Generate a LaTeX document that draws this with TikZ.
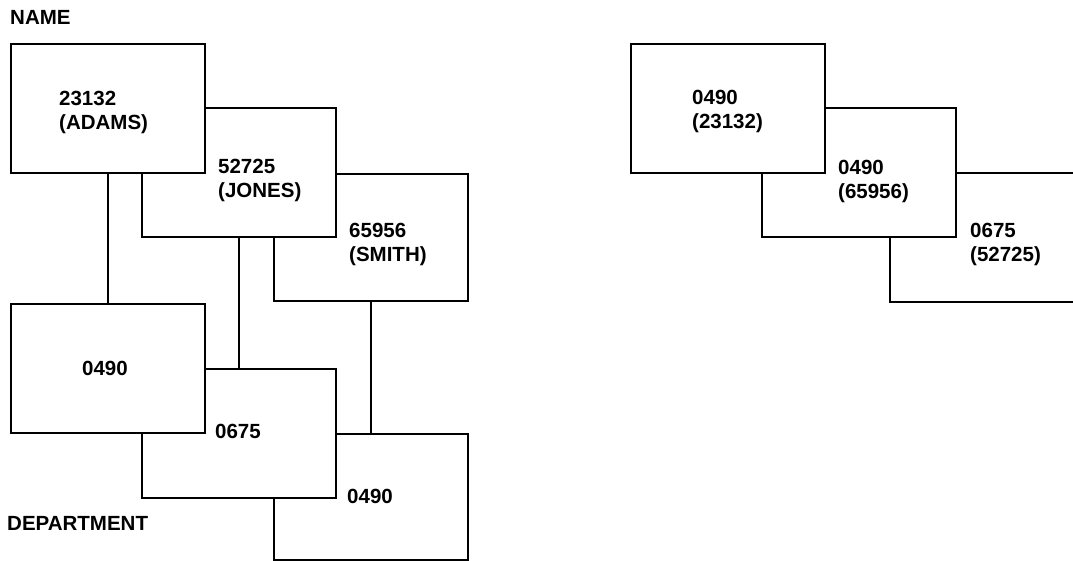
\documentclass[tikz,border=0pt]{standalone}
\usepackage{fontspec}
\setmainfont{Liberation Sans}
\begin{document}
\begin{tikzpicture}[x=1pt,y=-1pt,
  box/.style={draw=black, fill=white, line width=2.2pt, minimum width=194pt, minimum height=129pt, inner sep=0pt, anchor=north west},
  lbl/.style={inner sep=0pt, anchor=north west, align=left, font=\bfseries\fontsize{20.5}{24}\selectfont},
  link/.style={draw=black, line width=2.2pt}]
\useasboundingbox[fill=white] (0,0) rectangle (1073,561);
% left: NAME records
\node[box, minimum height=127pt] (S) at (273,173) {};
\node[box] (J) at (141,107) {};
\node[box] (A) at (10,43) {};
% left: DEPARTMENT records
\node[box, minimum height=126pt] (D3) at (273,433) {};
\node[box] (D2) at (141,368) {};
\node[box] (D1) at (10,303) {};
% right index
\node[box] (R3) at (889,172) {};
\node[box] (R2) at (761,107) {};
\node[box] (R1) at (630,43) {};
% connectors
\draw[link] (A.south) -- (D1.north);
\draw[link] (J.south) -- (D2.north);
\draw[link] (S.south) -- (D3.north);
% labels
\node[lbl] (tname) at (10,10) {NAME};
\node[lbl] (tdept) at (7,516) {DEPARTMENT};
\node[lbl] (tA) at (59,91) {23132\\(ADAMS)};
\node[lbl] (tJ) at (218,159) {52725\\(JONES)};
\node[lbl] (tS) at (349,223) {65956\\(SMITH)};
\node[lbl] (tD1) at (82,361) {0490};
\node[lbl] (tD2) at (215,424) {0675};
\node[lbl] (tD3) at (347,489) {0490};
\node[lbl] (tR1) at (692,90) {0490\\(23132)};
\node[lbl] (tR2) at (838,160) {0490\\(65956)};
\node[lbl] (tR3) at (970,223) {0675\\(52725)};
\end{tikzpicture}
\end{document}
